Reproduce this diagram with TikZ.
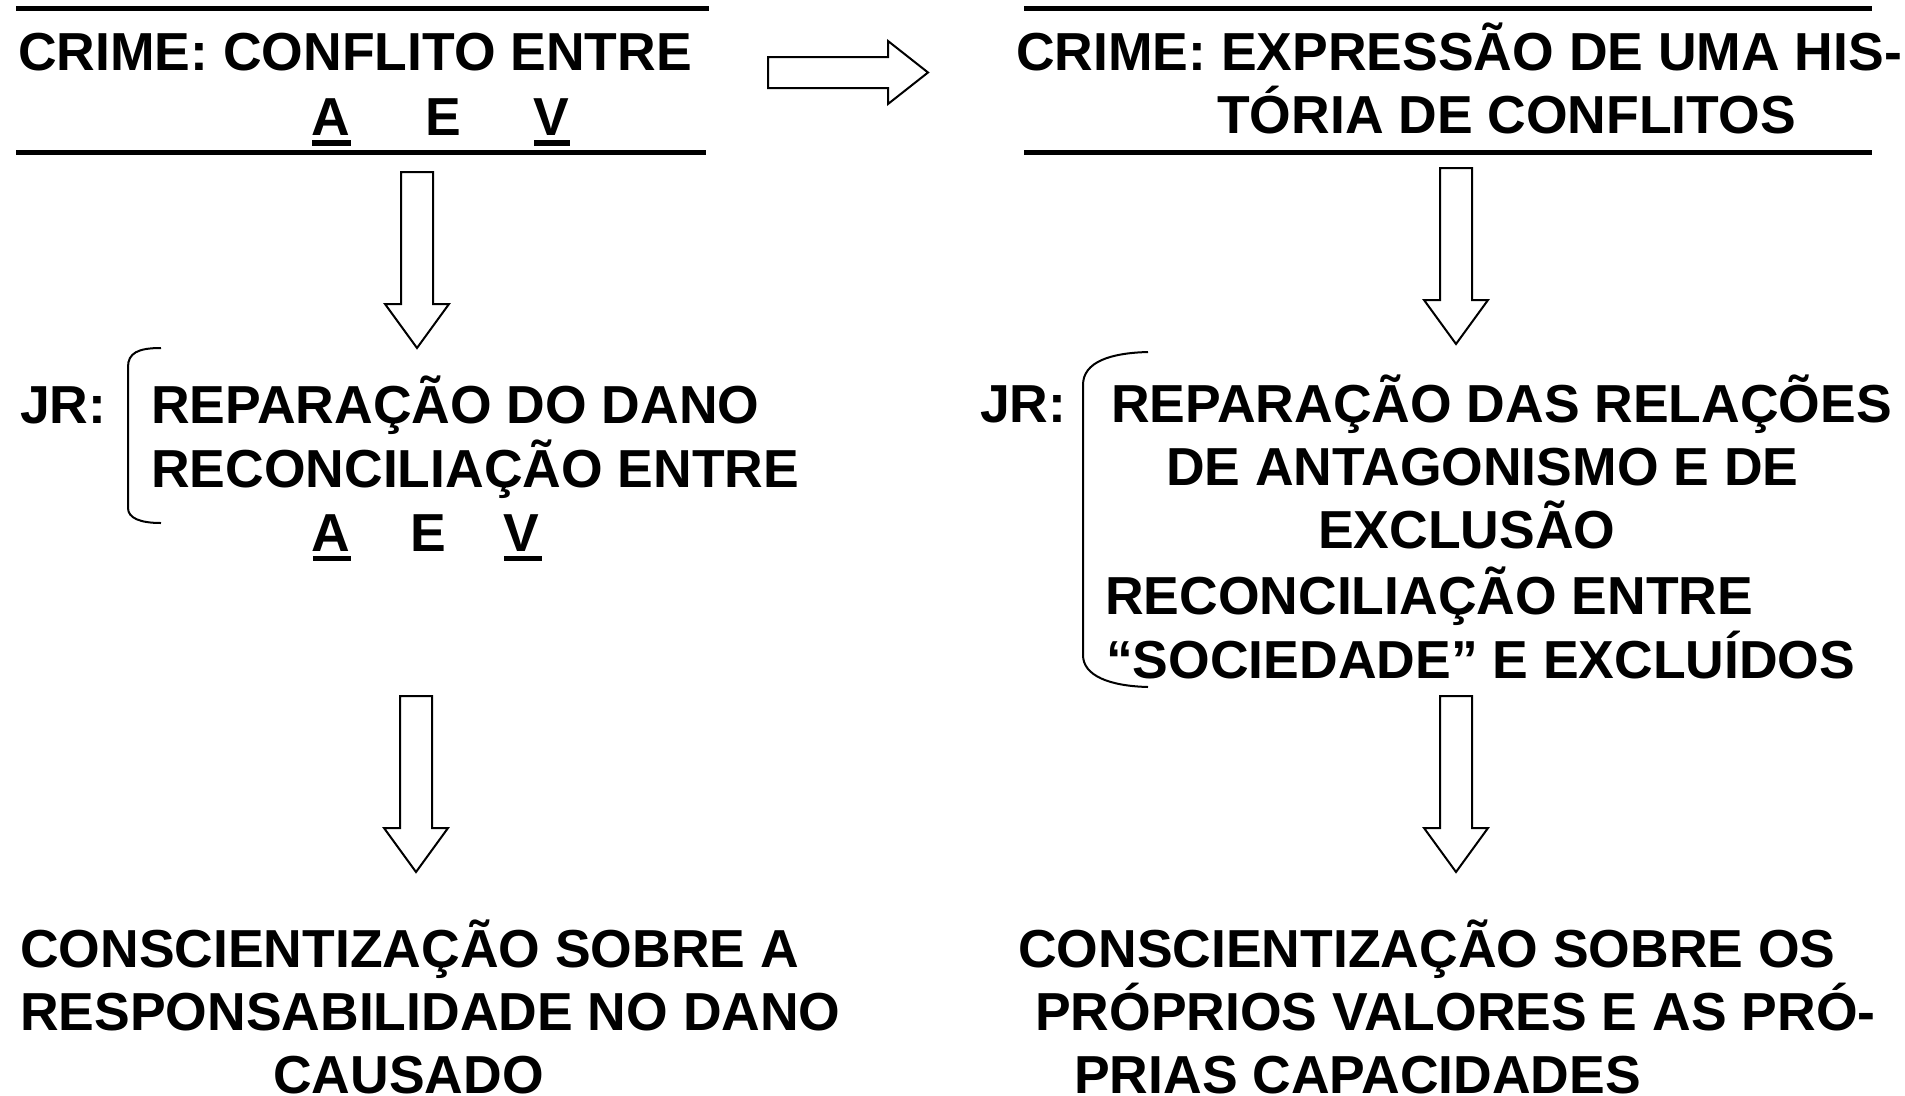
\documentclass[tikz,border=0pt]{standalone}
\usepackage{fontspec}
\setmainfont{Liberation Sans}
\begin{document}
\begin{tikzpicture}[x=1pt,y=-1pt,
  txt/.style={anchor=base west, inner sep=0pt, font=\bfseries\fontsize{53.5}{63}\selectfont},
  rulebar/.style={line width=5.5pt},
  blockarrow/.style={draw, line width=2pt, fill=white, line join=miter},
  brace/.style={draw, line width=2pt},
  uline/.style={fill=black},
  darrow/.pic={\draw[blockarrow] (-16,0) -- (16,0) -- (16,132) -- (32,132) -- (0,176) -- (-32,132) -- (-16,132) -- cycle;}
]
\useasboundingbox[fill=white] (0,0) rectangle (1905,1095);

% ---------- left column ----------
\draw[rulebar] (16,8.5) -- (709,8.5);
\node[txt] (crimeL) at (18,70) {CRIME: CONFLITO ENTRE};
\node[txt] (aL) at (311,135) {A};
\node[txt] (eL) at (425,135) {E};
\node[txt] (vL) at (533,135) {V};
\fill[uline] (312,140) rectangle (351,146);
\fill[uline] (534,140) rectangle (570,146);
\draw[rulebar] (16,152.5) -- (706,152.5);

\pic at (417,172) {darrow};

\node[txt] (jrL) at (20,423) {JR:};
\draw[brace] (161,348) .. controls (138,348) and (128,353) .. (128,367)
  -- (128,508) .. controls (128,518) and (140,523) .. (161,523);
\node[txt] (repL) at (151,423) {REPARAÇÃO DO DANO};
\node[txt] (recL) at (151,487) {RECONCILIAÇÃO ENTRE};
\node[txt] (aL2) at (311,551) {A};
\node[txt] (eL2) at (410,551) {E};
\node[txt] (vL2) at (503,551) {V};
\fill[uline] (313,556) rectangle (351,561);
\fill[uline] (504,556) rectangle (542,561);

\pic at (416,696) {darrow};

\node[txt] (conL1) at (20,967) {CONSCIENTIZAÇÃO SOBRE A};
\node[txt] (conL2) at (20,1030) {RESPONSABILIDADE NO DANO};
\node[txt] (conL3) at (273,1093) {CAUSADO};

% ---------- horizontal arrow ----------
\draw[blockarrow] (768,57) -- (888,57) -- (888,41) -- (928,72.5) -- (888,104) -- (888,88) -- (768,88) -- cycle;

% ---------- right column ----------
\draw[rulebar] (1024,8.5) -- (1872,8.5);
\node[txt] (crimeR1) at (1016,70) {CRIME: EXPRESSÃO DE UMA HIS-};
\node[txt] (crimeR2) at (1217,133) {TÓRIA DE CONFLITOS};
\draw[rulebar] (1024,152.5) -- (1872,152.5);

\pic at (1456,168) {darrow};

\node[txt] (jrR) at (980,422) {JR:};
\draw[brace] (1148,352) .. controls (1110,353) and (1083,362) .. (1083,385)
  -- (1083,655) .. controls (1083,676) and (1110,686) .. (1148,687);
\node[txt] (repR1) at (1111,422) {REPARAÇÃO DAS RELAÇÕES};
\node[txt] (repR2) at (1166,485) {DE ANTAGONISMO E DE};
\node[txt] (repR3) at (1318,548) {EXCLUSÃO};
\node[txt] (recR1) at (1105,614) {RECONCILIAÇÃO ENTRE};
\node[txt] (recR2) at (1106,678) {“SOCIEDADE” E EXCLUÍDOS};

\pic at (1456,696) {darrow};

\node[txt] (conR1) at (1018,967) {CONSCIENTIZAÇÃO SOBRE OS};
\node[txt] (conR2) at (1035,1030) {PRÓPRIOS VALORES E AS PRÓ-};
\node[txt] (conR3) at (1074,1093) {PRIAS CAPACIDADES};
\end{tikzpicture}
\end{document}
